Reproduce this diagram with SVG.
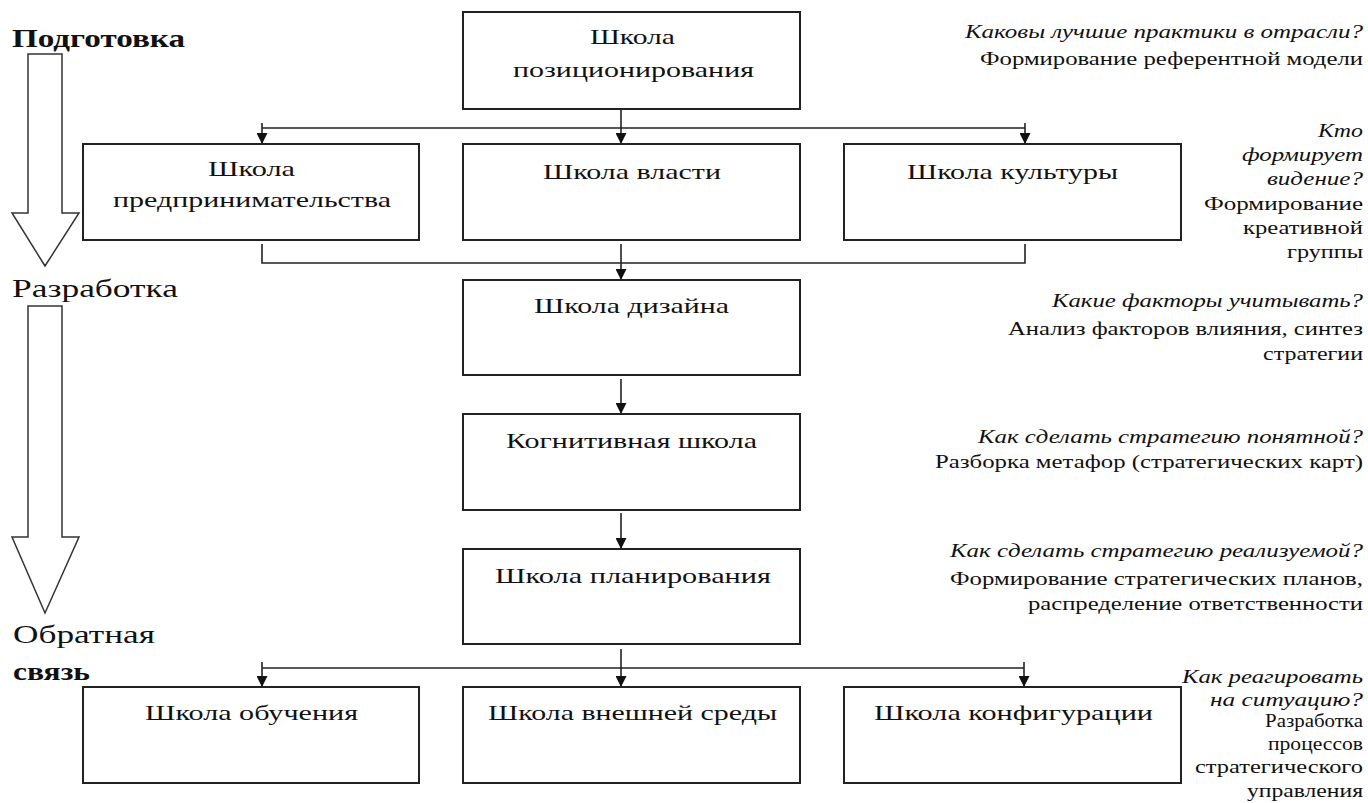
<svg xmlns="http://www.w3.org/2000/svg" width="1368" height="803" viewBox="0 0 1368 803">
<style>
.box{fill:#fff;stroke:#222;stroke-width:2}
.bt{font-family:"Liberation Serif","Times New Roman",serif;font-size:22px;fill:#111;text-anchor:start}
.rt{font-family:"Liberation Serif","Times New Roman",serif;font-size:19px;fill:#111;text-anchor:end}
.ri{font-style:italic}
.lab{font-family:"Liberation Serif","Times New Roman",serif;font-size:26px;fill:#111}
.b{font-weight:bold}
.con{fill:none;stroke:#222;stroke-width:1.6}
.big{fill:#fff;stroke:#333;stroke-width:1.5}
</style>
<defs>
<marker id="ah" viewBox="0 0 10 10" refX="10" refY="5" markerWidth="11" markerHeight="11" markerUnits="userSpaceOnUse" orient="auto">
<path d="M0,0 L10,5 L0,10 Z" fill="#111"/>
</marker>
</defs>

<g id="stage-arrows">
<polygon class="big" points="28,54 62,54 62,213 79,213 45,266 12,213 28,213"/>
<polygon class="big" points="28,306 62,306 62,537 79,537 45,613 12,537 28,537"/>
<text class="lab b" x="12" y="47" textLength="173" lengthAdjust="spacingAndGlyphs">Подготовка</text>
<text class="lab" x="12" y="297" textLength="166" lengthAdjust="spacingAndGlyphs">Разработка</text>
<text class="lab" x="13" y="643" textLength="142" lengthAdjust="spacingAndGlyphs">Обратная</text>
<text class="lab b" x="13" y="680" textLength="77" lengthAdjust="spacingAndGlyphs">связь</text>
</g>

<g id="connectors">
<line class="con" x1="621" y1="109" x2="621" y2="144" marker-end="url(#ah)"/>
<line class="con" x1="262" y1="128" x2="1025" y2="128"/>
<line class="con" x1="262" y1="123" x2="262" y2="144" marker-end="url(#ah)"/>
<line class="con" x1="1025" y1="123" x2="1025" y2="144" marker-end="url(#ah)"/>
<polyline class="con" points="262,244 262,263 1025,263 1025,244"/>
<line class="con" x1="621" y1="244" x2="621" y2="280" marker-end="url(#ah)"/>
<line class="con" x1="621" y1="379" x2="621" y2="414" marker-end="url(#ah)"/>
<line class="con" x1="621" y1="513" x2="621" y2="549" marker-end="url(#ah)"/>
<line class="con" x1="621" y1="649" x2="621" y2="687" marker-end="url(#ah)"/>
<line class="con" x1="262" y1="668" x2="1024" y2="668"/>
<line class="con" x1="262" y1="662" x2="262" y2="687" marker-end="url(#ah)"/>
<line class="con" x1="1024" y1="662" x2="1024" y2="687" marker-end="url(#ah)"/>
</g>

<g id="n-positioning">
<rect class="box" x="463" y="12" width="337" height="97"/>
<text class="bt" x="590" y="44" textLength="85" lengthAdjust="spacingAndGlyphs">Школа</text>
<text class="bt" x="513" y="77" textLength="241" lengthAdjust="spacingAndGlyphs">позиционирования</text>
</g>
<g id="n-entrepreneur">
<rect class="box" x="83" y="144" width="336" height="96"/>
<text class="bt" x="208" y="176" textLength="87" lengthAdjust="spacingAndGlyphs">Школа</text>
<text class="bt" x="113" y="207" textLength="278" lengthAdjust="spacingAndGlyphs">предпринимательства</text>
</g>
<g id="n-power">
<rect class="box" x="463" y="144" width="337" height="96"/>
<text class="bt" x="543" y="179" textLength="178" lengthAdjust="spacingAndGlyphs">Школа власти</text>
</g>
<g id="n-culture">
<rect class="box" x="844" y="144" width="337" height="96"/>
<text class="bt" x="907" y="179" textLength="211" lengthAdjust="spacingAndGlyphs">Школа культуры</text>
</g>
<g id="n-design">
<rect class="box" x="463" y="280" width="337" height="95"/>
<text class="bt" x="534" y="313" textLength="195" lengthAdjust="spacingAndGlyphs">Школа дизайна</text>
</g>
<g id="n-cognitive">
<rect class="box" x="463" y="414" width="337" height="96"/>
<text class="bt" x="506" y="448" textLength="251" lengthAdjust="spacingAndGlyphs">Когнитивная школа</text>
</g>
<g id="n-planning">
<rect class="box" x="463" y="549" width="337" height="95"/>
<text class="bt" x="495" y="583" textLength="276" lengthAdjust="spacingAndGlyphs">Школа планирования</text>
</g>
<g id="n-learning">
<rect class="box" x="83" y="687" width="336" height="96"/>
<text class="bt" x="145" y="720" textLength="213" lengthAdjust="spacingAndGlyphs">Школа обучения</text>
</g>
<g id="n-environment">
<rect class="box" x="463" y="687" width="337" height="96"/>
<text class="bt" x="488" y="720" textLength="289" lengthAdjust="spacingAndGlyphs">Школа внешней среды</text>
</g>
<g id="n-configuration">
<rect class="box" x="844" y="687" width="337" height="96"/>
<text class="bt" x="874" y="720" textLength="279" lengthAdjust="spacingAndGlyphs">Школа конфигурации</text>
</g>

<g id="notes">
<text class="rt ri" x="1363" y="38" textLength="398" lengthAdjust="spacingAndGlyphs">Каковы лучшие практики в отрасли?</text>
<text class="rt" x="1363" y="65" textLength="383" lengthAdjust="spacingAndGlyphs">Формирование референтной модели</text>

<text class="rt ri" x="1363" y="137" textLength="45" lengthAdjust="spacingAndGlyphs">Кто</text>
<text class="rt ri" x="1363" y="161" textLength="121" lengthAdjust="spacingAndGlyphs">формирует</text>
<text class="rt ri" x="1363" y="185" textLength="96" lengthAdjust="spacingAndGlyphs">видение?</text>
<text class="rt" x="1363" y="210" textLength="159" lengthAdjust="spacingAndGlyphs">Формирование</text>
<text class="rt" x="1363" y="234" textLength="120" lengthAdjust="spacingAndGlyphs">креативной</text>
<text class="rt" x="1363" y="258" textLength="76" lengthAdjust="spacingAndGlyphs">группы</text>

<text class="rt ri" x="1363" y="307" textLength="311" lengthAdjust="spacingAndGlyphs">Какие факторы учитывать?</text>
<text class="rt" x="1363" y="335" textLength="355" lengthAdjust="spacingAndGlyphs">Анализ факторов влияния, синтез</text>
<text class="rt" x="1363" y="360" textLength="100" lengthAdjust="spacingAndGlyphs">стратегии</text>

<text class="rt ri" x="1363" y="443" textLength="385" lengthAdjust="spacingAndGlyphs">Как сделать стратегию понятной?</text>
<text class="rt" x="1363" y="468" textLength="428" lengthAdjust="spacingAndGlyphs">Разборка метафор (стратегических карт)</text>

<text class="rt ri" x="1363" y="557" textLength="413" lengthAdjust="spacingAndGlyphs">Как сделать стратегию реализуемой?</text>
<text class="rt" x="1363" y="585" textLength="413" lengthAdjust="spacingAndGlyphs">Формирование стратегических планов,</text>
<text class="rt" x="1363" y="610" textLength="335" lengthAdjust="spacingAndGlyphs">распределение ответственности</text>

<text class="rt ri" x="1363" y="683" textLength="181" lengthAdjust="spacingAndGlyphs">Как реагировать</text>
<text class="rt ri" x="1363" y="706" textLength="153" lengthAdjust="spacingAndGlyphs">на ситуацию?</text>
<text class="rt" x="1363" y="727" textLength="98" lengthAdjust="spacingAndGlyphs">Разработка</text>
<text class="rt" x="1363" y="750" textLength="95" lengthAdjust="spacingAndGlyphs">процессов</text>
<text class="rt" x="1363" y="773" textLength="168" lengthAdjust="spacingAndGlyphs">стратегического</text>
<text class="rt" x="1363" y="797" textLength="116" lengthAdjust="spacingAndGlyphs">управления</text>
</g>
</svg>
